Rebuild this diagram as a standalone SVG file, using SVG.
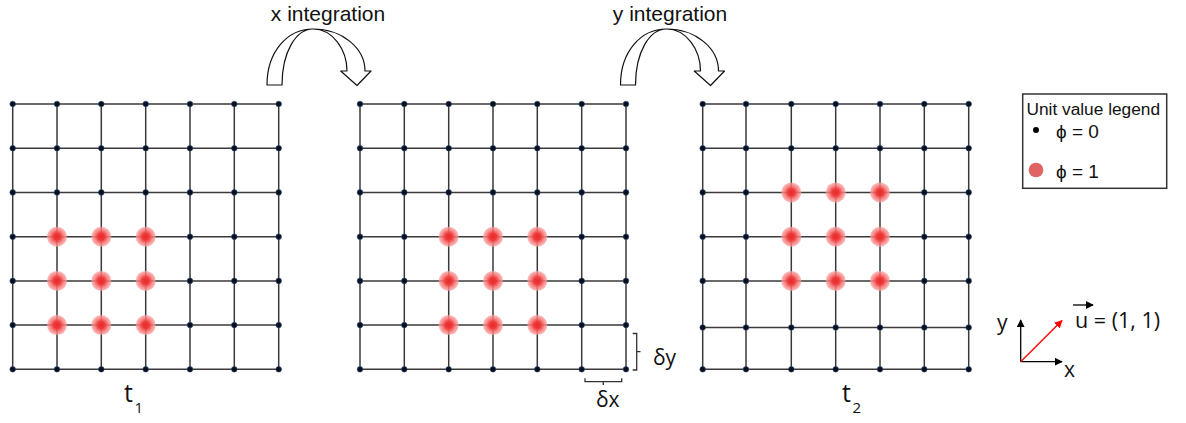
<svg xmlns="http://www.w3.org/2000/svg" width="1186" height="423" viewBox="0 0 1186 423">
<style>
.grid{fill:none;stroke:#3a3a3a;stroke-width:1.5}
.d{fill:#0a0f1e;stroke:#2b4a7a;stroke-width:0.6}
.hot{fill:url(#rg)}
.arr{fill:#fff;stroke:#111;stroke-width:1.2;stroke-linejoin:round}
.lbl{font-family:"Liberation Sans",Arial,sans-serif;fill:#111}
.cal{font-family:"Open Sans","Noto Sans",sans-serif;fill:#111}
.br{fill:none;stroke:#333;stroke-width:1.3}
</style>
<defs>
<radialGradient id="rg">
<stop offset="0" stop-color="#e62a2a"/>
<stop offset="0.35" stop-color="#ee3b3b"/>
<stop offset="0.7" stop-color="#f77a7a" stop-opacity="0.85"/>
<stop offset="1" stop-color="#fba0a0" stop-opacity="0.7"/>
</radialGradient>
<marker id="ah" viewBox="0 0 10 10" refX="9" refY="5" markerWidth="8" markerHeight="8" markerUnits="userSpaceOnUse" orient="auto">
<path d="M0,0 L10,5 L0,10 Z" fill="#000"/>
</marker>
<marker id="ahr" viewBox="0 0 10 10" refX="9" refY="5" markerWidth="8" markerHeight="8" markerUnits="userSpaceOnUse" orient="auto">
<path d="M0,0 L10,5 L0,10 Z" fill="#f00"/>
</marker>
</defs>
<rect width="1186" height="423" fill="#fff"/>

<g id="grid1">
<path class="grid" d="M12.7,104H278.7M12.7,148.2H278.7M12.7,192.4H278.7M12.7,236.7H278.7M12.7,280.9H278.7M12.7,325.1H278.7M12.7,369.3H278.7M12.7,104V369.3M57,104V369.3M101.3,104V369.3M145.7,104V369.3M190,104V369.3M234.3,104V369.3M278.7,104V369.3"/>
<g class="hot">
<circle cx="57" cy="236.7" r="10"/><circle cx="101.3" cy="236.7" r="10"/><circle cx="145.7" cy="236.7" r="10"/>
<circle cx="57" cy="280.9" r="10"/><circle cx="101.3" cy="280.9" r="10"/><circle cx="145.7" cy="280.9" r="10"/>
<circle cx="57" cy="325.1" r="10"/><circle cx="101.3" cy="325.1" r="10"/><circle cx="145.7" cy="325.1" r="10"/>
</g>
<g class="d">
<circle cx="12.7" cy="104" r="2.8"/><circle cx="57" cy="104" r="2.8"/><circle cx="101.3" cy="104" r="2.8"/><circle cx="145.7" cy="104" r="2.8"/><circle cx="190" cy="104" r="2.8"/><circle cx="234.3" cy="104" r="2.8"/><circle cx="278.7" cy="104" r="2.8"/>
<circle cx="12.7" cy="148.2" r="2.8"/><circle cx="57" cy="148.2" r="2.8"/><circle cx="101.3" cy="148.2" r="2.8"/><circle cx="145.7" cy="148.2" r="2.8"/><circle cx="190" cy="148.2" r="2.8"/><circle cx="234.3" cy="148.2" r="2.8"/><circle cx="278.7" cy="148.2" r="2.8"/>
<circle cx="12.7" cy="192.4" r="2.8"/><circle cx="57" cy="192.4" r="2.8"/><circle cx="101.3" cy="192.4" r="2.8"/><circle cx="145.7" cy="192.4" r="2.8"/><circle cx="190" cy="192.4" r="2.8"/><circle cx="234.3" cy="192.4" r="2.8"/><circle cx="278.7" cy="192.4" r="2.8"/>
<circle cx="12.7" cy="236.7" r="2.8"/><circle cx="190" cy="236.7" r="2.8"/><circle cx="234.3" cy="236.7" r="2.8"/><circle cx="278.7" cy="236.7" r="2.8"/>
<circle cx="12.7" cy="280.9" r="2.8"/><circle cx="190" cy="280.9" r="2.8"/><circle cx="234.3" cy="280.9" r="2.8"/><circle cx="278.7" cy="280.9" r="2.8"/>
<circle cx="12.7" cy="325.1" r="2.8"/><circle cx="190" cy="325.1" r="2.8"/><circle cx="234.3" cy="325.1" r="2.8"/><circle cx="278.7" cy="325.1" r="2.8"/>
<circle cx="12.7" cy="369.3" r="2.8"/><circle cx="57" cy="369.3" r="2.8"/><circle cx="101.3" cy="369.3" r="2.8"/><circle cx="145.7" cy="369.3" r="2.8"/><circle cx="190" cy="369.3" r="2.8"/><circle cx="234.3" cy="369.3" r="2.8"/><circle cx="278.7" cy="369.3" r="2.8"/>
</g>
<text class="cal" x="124" y="401.7" font-size="25">t</text>
<text class="cal" x="134.5" y="413" font-size="15">1</text>
</g>

<g id="grid2">
<path class="grid" d="M360,104H626M360,148.2H626M360,192.4H626M360,236.7H626M360,280.9H626M360,325.1H626M360,369.3H626M360,104V369.3M404.3,104V369.3M448.7,104V369.3M493,104V369.3M537.3,104V369.3M581.7,104V369.3M626,104V369.3"/>
<g class="hot">
<circle cx="448.7" cy="236.7" r="10"/><circle cx="493" cy="236.7" r="10"/><circle cx="537.3" cy="236.7" r="10"/>
<circle cx="448.7" cy="280.9" r="10"/><circle cx="493" cy="280.9" r="10"/><circle cx="537.3" cy="280.9" r="10"/>
<circle cx="448.7" cy="325.1" r="10"/><circle cx="493" cy="325.1" r="10"/><circle cx="537.3" cy="325.1" r="10"/>
</g>
<g class="d">
<circle cx="360" cy="104" r="2.8"/><circle cx="404.3" cy="104" r="2.8"/><circle cx="448.7" cy="104" r="2.8"/><circle cx="493" cy="104" r="2.8"/><circle cx="537.3" cy="104" r="2.8"/><circle cx="581.7" cy="104" r="2.8"/><circle cx="626" cy="104" r="2.8"/>
<circle cx="360" cy="148.2" r="2.8"/><circle cx="404.3" cy="148.2" r="2.8"/><circle cx="448.7" cy="148.2" r="2.8"/><circle cx="493" cy="148.2" r="2.8"/><circle cx="537.3" cy="148.2" r="2.8"/><circle cx="581.7" cy="148.2" r="2.8"/><circle cx="626" cy="148.2" r="2.8"/>
<circle cx="360" cy="192.4" r="2.8"/><circle cx="404.3" cy="192.4" r="2.8"/><circle cx="448.7" cy="192.4" r="2.8"/><circle cx="493" cy="192.4" r="2.8"/><circle cx="537.3" cy="192.4" r="2.8"/><circle cx="581.7" cy="192.4" r="2.8"/><circle cx="626" cy="192.4" r="2.8"/>
<circle cx="360" cy="236.7" r="2.8"/><circle cx="404.3" cy="236.7" r="2.8"/><circle cx="581.7" cy="236.7" r="2.8"/><circle cx="626" cy="236.7" r="2.8"/>
<circle cx="360" cy="280.9" r="2.8"/><circle cx="404.3" cy="280.9" r="2.8"/><circle cx="581.7" cy="280.9" r="2.8"/><circle cx="626" cy="280.9" r="2.8"/>
<circle cx="360" cy="325.1" r="2.8"/><circle cx="404.3" cy="325.1" r="2.8"/><circle cx="581.7" cy="325.1" r="2.8"/><circle cx="626" cy="325.1" r="2.8"/>
<circle cx="360" cy="369.3" r="2.8"/><circle cx="404.3" cy="369.3" r="2.8"/><circle cx="448.7" cy="369.3" r="2.8"/><circle cx="493" cy="369.3" r="2.8"/><circle cx="537.3" cy="369.3" r="2.8"/><circle cx="581.7" cy="369.3" r="2.8"/><circle cx="626" cy="369.3" r="2.8"/>
</g>
<path class="br" d="M632.7,333.5H636.7V370H632.7M636.7,351.7H640.5"/>
<path class="br" d="M585,378.3V381.7H621.7V378.3M603.3,381.7V385"/>
<text class="cal" x="653" y="365" font-size="21">δy</text>
<text class="cal" x="596" y="407.3" font-size="21">δx</text>
</g>

<g id="grid3">
<path class="grid" d="M702.7,104H968.7M702.7,148.2H968.7M702.7,192.4H968.7M702.7,236.7H968.7M702.7,280.9H968.7M702.7,327.5H968.7M702.7,369.3H968.7M702.7,104V369.3M746,104V369.3M791.3,104V369.3M835.7,104V369.3M880,104V369.3M924.3,104V369.3M968.7,104V369.3"/>
<g class="hot">
<circle cx="791.3" cy="192.4" r="10"/><circle cx="835.7" cy="192.4" r="10"/><circle cx="880" cy="192.4" r="10"/>
<circle cx="791.3" cy="236.7" r="10"/><circle cx="835.7" cy="236.7" r="10"/><circle cx="880" cy="236.7" r="10"/>
<circle cx="791.3" cy="280.9" r="10"/><circle cx="835.7" cy="280.9" r="10"/><circle cx="880" cy="280.9" r="10"/>
</g>
<g class="d">
<circle cx="702.7" cy="104" r="2.8"/><circle cx="746" cy="104" r="2.8"/><circle cx="791.3" cy="104" r="2.8"/><circle cx="835.7" cy="104" r="2.8"/><circle cx="880" cy="104" r="2.8"/><circle cx="924.3" cy="104" r="2.8"/><circle cx="968.7" cy="104" r="2.8"/>
<circle cx="702.7" cy="148.2" r="2.8"/><circle cx="746" cy="148.2" r="2.8"/><circle cx="791.3" cy="148.2" r="2.8"/><circle cx="835.7" cy="148.2" r="2.8"/><circle cx="880" cy="148.2" r="2.8"/><circle cx="924.3" cy="148.2" r="2.8"/><circle cx="968.7" cy="148.2" r="2.8"/>
<circle cx="702.7" cy="192.4" r="2.8"/><circle cx="746" cy="192.4" r="2.8"/><circle cx="924.3" cy="192.4" r="2.8"/><circle cx="968.7" cy="192.4" r="2.8"/>
<circle cx="702.7" cy="236.7" r="2.8"/><circle cx="746" cy="236.7" r="2.8"/><circle cx="924.3" cy="236.7" r="2.8"/><circle cx="968.7" cy="236.7" r="2.8"/>
<circle cx="702.7" cy="280.9" r="2.8"/><circle cx="746" cy="280.9" r="2.8"/><circle cx="924.3" cy="280.9" r="2.8"/><circle cx="968.7" cy="280.9" r="2.8"/>
<circle cx="702.7" cy="327.5" r="2.8"/><circle cx="746" cy="327.5" r="2.8"/><circle cx="791.3" cy="327.5" r="2.8"/><circle cx="835.7" cy="327.5" r="2.8"/><circle cx="880" cy="327.5" r="2.8"/><circle cx="924.3" cy="327.5" r="2.8"/><circle cx="968.7" cy="327.5" r="2.8"/>
<circle cx="702.7" cy="369.3" r="2.8"/><circle cx="746" cy="369.3" r="2.8"/><circle cx="791.3" cy="369.3" r="2.8"/><circle cx="835.7" cy="369.3" r="2.8"/><circle cx="880" cy="369.3" r="2.8"/><circle cx="924.3" cy="369.3" r="2.8"/><circle cx="968.7" cy="369.3" r="2.8"/>
</g>
<text class="cal" x="842" y="401.7" font-size="25">t</text>
<text class="cal" x="852.5" y="413" font-size="15">2</text>
</g>

<g id="connectors">
<g id="x-integration">
<path class="arr" d="M267,85 C267,52 287,29 313,29 C333,29 347,50 347,71 L340.7,71 L357,85.5 L371,71 L365,71 C365,48 342,29 313,29 C296,29 282,52 282,85 Z"/>
<text class="lbl" x="328" y="21" font-size="21" text-anchor="middle">x integration</text>
</g>
<g id="y-integration">
<path class="arr" transform="translate(353.5,0)" d="M267,85 C267,52 287,29 313,29 C333,29 347,50 347,71 L340.7,71 L357,85.5 L371,71 L365,71 C365,48 342,29 313,29 C296,29 282,52 282,85 Z"/>
<text class="lbl" x="670" y="21" font-size="21" text-anchor="middle">y integration</text>
</g>
</g>

<g id="legend">
<rect x="1022.7" y="94" width="144" height="94.3" fill="#fff" stroke="#333" stroke-width="1.5"/>
<text class="lbl" x="1026.5" y="115" font-size="17.3">Unit value legend</text>
<circle cx="1036" cy="130" r="3" fill="#000"/>
<text class="lbl" x="1056" y="138" font-size="19">ϕ = 0</text>
<circle cx="1036" cy="170" r="7.3" fill="#e06464"/>
<text class="lbl" x="1056" y="178" font-size="19">ϕ = 1</text>
</g>

<g id="axes">
<line x1="1020.7" y1="361.7" x2="1020.7" y2="320" stroke="#000" stroke-width="1.3" marker-end="url(#ah)"/>
<line x1="1020.7" y1="361.7" x2="1062" y2="361.7" stroke="#000" stroke-width="1.3" marker-end="url(#ah)"/>
<line x1="1020.7" y1="361.7" x2="1062" y2="320.5" stroke="#f00" stroke-width="1.3" marker-end="url(#ahr)"/>
<text class="cal" x="997" y="330" font-size="21">y</text>
<text class="cal" x="1064" y="377" font-size="21">x</text>
<text class="cal" x="1075" y="328" font-size="21.5">u = (1, 1)</text>
<line x1="1073" y1="305" x2="1093" y2="305" stroke="#000" stroke-width="1.3" marker-end="url(#ah)"/>
</g>
</svg>
